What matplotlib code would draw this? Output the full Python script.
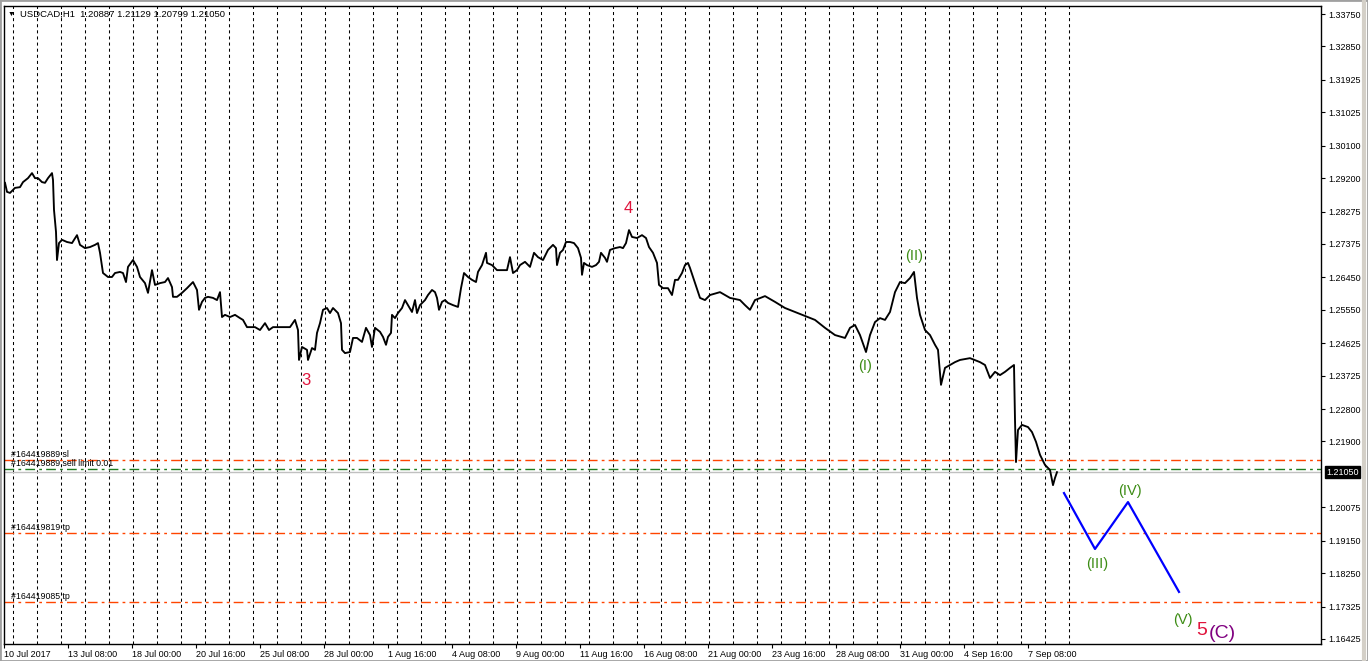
import matplotlib
matplotlib.use("Agg")
import matplotlib.pyplot as plt
from matplotlib.patches import Rectangle

plt.rcParams["font.family"] = ["Liberation Sans", "DejaVu Sans"]
plt.rcParams["lines.scale_dashes"] = False

# ---------- datos (indice de barra H1, precio) ----------
barras = [1, 3, 6, 11, 16, 19, 24, 28, 31, 34, 38, 41, 44, 48, 49, 50, 52, 53, 55, 58,
          63, 68, 73, 76, 81, 86, 91, 94, 96, 99, 104, 108, 111, 116, 119, 122, 124, 129, 133, 136,
          141, 144, 148, 151, 156, 161, 164, 168, 169, 173, 178, 183, 189, 193, 195, 198, 201, 204, 209, 213,
          216, 218, 221, 226, 231, 236, 239, 243, 246, 251, 256, 261, 265, 269, 274, 281, 286, 291, 294, 295,
          298, 303, 304, 308, 311, 313, 316, 319, 323, 326, 329, 334, 337, 338, 341, 346, 349, 353, 358, 362,
          366, 368, 371, 376, 379, 382, 384, 387, 388, 391, 394, 398, 401, 404, 408, 411, 413, 416, 421, 424,
          428, 431, 433, 435, 438, 441, 444, 449, 454, 457, 460, 464, 468, 472, 474, 478, 482, 483, 488, 493,
          498, 503, 506, 509, 513, 516, 521, 526, 530, 534, 539, 544, 549, 552, 553, 556, 559, 562, 566, 570,
          574, 577, 578, 580, 583, 588, 592, 595, 597, 601, 603, 606, 611, 616, 619, 622, 625, 628, 633, 638,
          642, 645, 649, 653, 655, 659, 664, 668, 671, 674, 678, 681, 684, 686, 696, 701, 706, 716, 726, 736,
          741, 746, 751, 761, 771, 781, 791, 801, 811, 821, 831, 841, 846, 851, 856, 862, 866, 871, 876, 881,
          886, 891, 896, 901, 906, 910, 913, 916, 921, 926, 931, 934, 937, 941, 946, 951, 956, 966, 976, 981,
          986, 991, 996, 1001, 1006, 1010, 1011, 1012, 1014, 1018, 1024, 1028, 1032, 1036, 1041, 1046, 1049, 1051, 1053]
precios = [1.2907, 1.2882, 1.2879, 1.2893, 1.2895, 1.2909, 1.2920, 1.2934, 1.2920, 1.2920,
           1.2909, 1.2907, 1.2920, 1.2934, 1.2915, 1.2832, 1.2771, 1.2693, 1.2740, 1.2749,
           1.2743, 1.2740, 1.2762, 1.2735, 1.2726, 1.2729, 1.2735, 1.2740, 1.2713, 1.2657,
           1.2646, 1.2646, 1.2657, 1.2660, 1.2657, 1.2632, 1.2674, 1.2693, 1.2674, 1.2646,
           1.2629, 1.2602, 1.2665, 1.2624, 1.2629, 1.2632, 1.2643, 1.2618, 1.2591, 1.2591,
           1.2602, 1.2615, 1.2632, 1.2610, 1.2555, 1.2577, 1.2588, 1.2591, 1.2588, 1.2582,
           1.2604, 1.2535, 1.2541, 1.2535, 1.2541, 1.2532, 1.2527, 1.2507, 1.2507, 1.2507,
           1.2499, 1.2518, 1.2499, 1.2507, 1.2507, 1.2507, 1.2507, 1.2527, 1.2499, 1.2416,
           1.2452, 1.2444, 1.2416, 1.2449, 1.2444, 1.2491, 1.2518, 1.2555, 1.2560, 1.2546,
           1.2560, 1.2546, 1.2518, 1.2444, 1.2435, 1.2438, 1.2477, 1.2477, 1.2466, 1.2505,
           1.2485, 1.2452, 1.2505, 1.2494, 1.2480, 1.2458, 1.2480, 1.2491, 1.2541, 1.2532,
           1.2546, 1.2560, 1.2582, 1.2568, 1.2549, 1.2582, 1.2546, 1.2568, 1.2582, 1.2596,
           1.2610, 1.2604, 1.2588, 1.2555, 1.2577, 1.2582, 1.2574, 1.2568, 1.2563, 1.2615,
           1.2657, 1.2646, 1.2638, 1.2632, 1.2660, 1.2679, 1.2713, 1.2685, 1.2679, 1.2665,
           1.2665, 1.2665, 1.2701, 1.2657, 1.2665, 1.2679, 1.2688, 1.2674, 1.2713, 1.2701,
           1.2693, 1.2721, 1.2735, 1.2726, 1.2679, 1.2713, 1.2721, 1.2743, 1.2743, 1.2740,
           1.2726, 1.2699, 1.2652, 1.2685, 1.2679, 1.2674, 1.2679, 1.2688, 1.2713, 1.2699,
           1.2688, 1.2721, 1.2726, 1.2729, 1.2726, 1.2740, 1.2776, 1.2757, 1.2754, 1.2762,
           1.2754, 1.2729, 1.2713, 1.2685, 1.2624, 1.2615, 1.2615, 1.2596, 1.2638, 1.2638,
           1.2657, 1.2679, 1.2685, 1.2671, 1.2588, 1.2582, 1.2596, 1.2604, 1.2588, 1.2582,
           1.2568, 1.2555, 1.2582, 1.2593, 1.2577, 1.2560, 1.2549, 1.2538, 1.2527, 1.2505,
           1.2485, 1.2477, 1.2505, 1.2513, 1.2485, 1.2438, 1.2485, 1.2521, 1.2532, 1.2527,
           1.2549, 1.2604, 1.2632, 1.2629, 1.2643, 1.2660, 1.2588, 1.2541, 1.2499, 1.2485,
           1.2458, 1.2444, 1.2347, 1.2394, 1.2402, 1.2410, 1.2416, 1.2421, 1.2410, 1.2402,
           1.2366, 1.2383, 1.2374, 1.2383, 1.2394, 1.2402, 1.2250, 1.2133, 1.2222, 1.2236,
           1.2230, 1.2216, 1.2189, 1.2153, 1.2125, 1.2111, 1.2069, 1.2089, 1.2105]

# proyeccion de ondas (III)-(IV)-(V)
onda_barras = [1060, 1091, 1124, 1175]
onda_precios = [1.2047, 1.1892, 1.2022, 1.1773]

# ordenes abiertas
precio_actual = 1.2105
ordenes = [
    ("#164419889 sl", 1.2138, "#FF4500"),
    ("#164419889 sell limit 0.01", 1.2114, "#1E7B1E"),
    ("#164419819 tp", 1.1936, "#FF4500"),
    ("#164419085 tp", 1.1745, "#FF4500"),
]

# etiquetas de Elliott
etiquetas = [
    ("3", 302, 1.2358, "#E0143C", 12),
    ("4", 624, 1.2835, "#E0143C", 12),
    ("(I)", 861, 1.2399, "#3C8C14", 10.5),
    ("(II)", 910, 1.2704, "#3C8C14", 10.5),
    ("(III)", 1093, 1.1850, "#3C8C14", 10.5),
    ("(IV)", 1126, 1.2053, "#3C8C14", 10.5),
    ("(V)", 1179, 1.1695, "#3C8C14", 10.5),
    ("5", 1198, 1.1667, "#E0143C", 14),
    ("(C)", 1218, 1.1659, "#800080", 14),
]

ticks_precio = [1.33750, 1.32850, 1.31925, 1.31025, 1.30100, 1.29200, 1.28275, 1.27375,
                1.26450, 1.25550, 1.24625, 1.23725, 1.22800, 1.21900, 1.20075, 1.19150,
                1.18250, 1.17325, 1.16425]
fechas = ["10 Jul 2017", "13 Jul 08:00", "18 Jul 00:00", "20 Jul 16:00", "25 Jul 08:00",
          "28 Jul 00:00", "1 Aug 16:00", "4 Aug 08:00", "9 Aug 00:00", "11 Aug 16:00",
          "16 Aug 08:00", "21 Aug 00:00", "23 Aug 16:00", "28 Aug 08:00", "31 Aug 00:00",
          "4 Sep 16:00", "7 Sep 08:00"]
fechas_barras = [64 * i for i in range(len(fechas))]
dias_barras = [9 + 24 * i for i in range(45)]

# ---------- figura ----------
fig = plt.figure(figsize=(13.68, 6.61), dpi=100)
ax = fig.add_axes([4 / 1368, 17 / 661, 1317 / 1368, 638 / 661])
ax.set_xlim(0, 1317)
ax.set_ylim(1.16286, 1.33972)

for b in dias_barras:
    ax.axvline(b, color="black", lw=0.75, dashes=(2.2, 2.2), zorder=1)

ax.axhline(precio_actual, color="#C0C0C0", lw=1, zorder=2)
for texto, p, c in ordenes:
    ax.axhline(p, color=c, lw=1, dashes=(7, 3, 2, 3), zorder=2)
    ax.annotate(texto, (7, p), xytext=(0, 1), textcoords="offset points",
                fontsize=6.3, color="black", va="bottom", ha="left", zorder=5)

ax.plot(barras, precios, color="black", lw=1.35, zorder=4)
ax.plot(onda_barras, onda_precios, color="#0000FF", lw=1.6, zorder=4)

for t, b, p, c, fs in etiquetas:
    ax.text(b, p, t, color=c, fontsize=fs, ha="center", va="center", zorder=5)

ax.text(4 / 1317, 0.987, "\u25bc", transform=ax.transAxes, fontsize=5, va="center", ha="left")
ax.text(16 / 1317, 0.987, "USDCAD,H1  1.20887 1.21129 1.20799 1.21050",
        transform=ax.transAxes, fontsize=6.8, va="center", ha="left")

# ejes
ax.yaxis.tick_right()
ax.set_yticks(ticks_precio)
ax.set_yticklabels([f"{v:.5f}" for v in ticks_precio], fontsize=6.5)
ax.tick_params(axis="y", length=3, width=0.8, pad=2)
ax.set_xticks(fechas_barras)
ax.set_xticklabels(fechas, fontsize=6.5)
for lbl in ax.get_xticklabels():
    lbl.set_horizontalalignment("left")
ax.tick_params(axis="x", length=3, width=0.8, pad=1)
for s in ax.spines.values():
    s.set_color("black")
    s.set_linewidth(1)

ax.annotate(f"{precio_actual:.5f}", (1, precio_actual), xycoords=("axes fraction", "data"),
            xytext=(3.5, 0), textcoords="offset points", fontsize=6.5, color="white",
            va="center", ha="left",
            bbox=dict(boxstyle="square,pad=0.15", fc="black", ec="black"))

fig.patches.append(Rectangle((0, 0), 1, 1, transform=fig.transFigure, fill=False,
                             ec="#A0A0A0", lw=2))
fig.add_artist(plt.Line2D([1364 / 1368, 1364 / 1368], [0, 1], color="#D4D0C8", lw=3))

fig.savefig("out.png", dpi=100)
